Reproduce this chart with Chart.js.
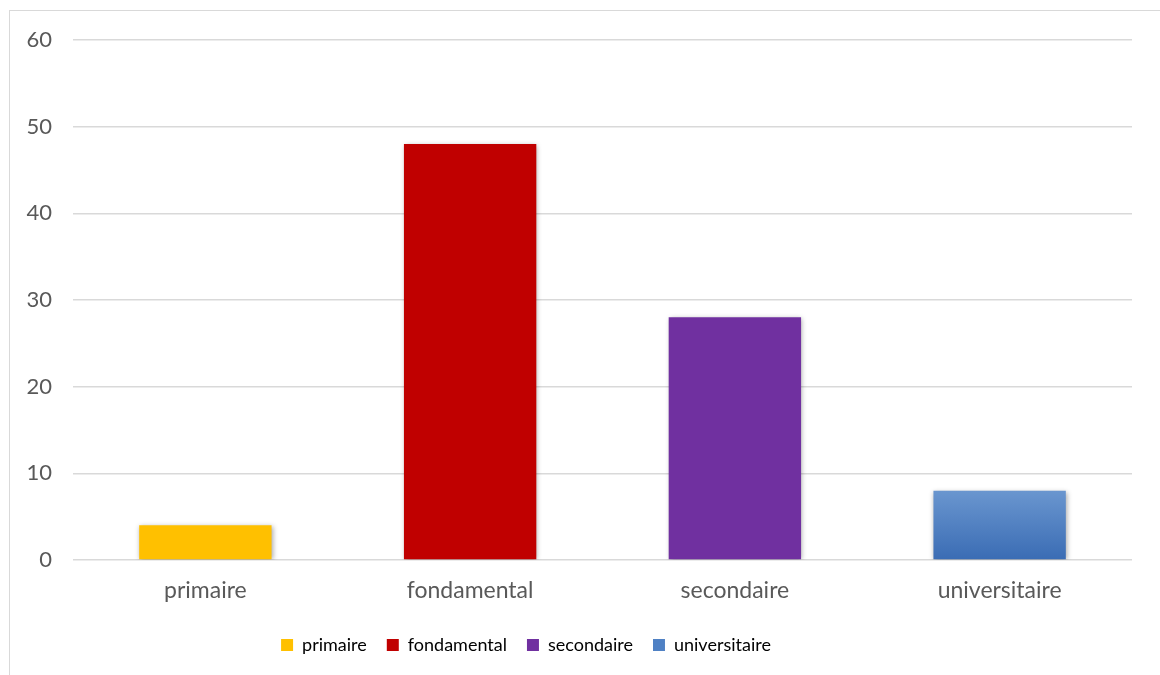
<!DOCTYPE html>
<html>
<head>
<meta charset="utf-8">
<script src="https://cdn.jsdelivr.net/npm/chart.js@4/dist/chart.umd.min.js"></script>
<style>
    html, body { margin: 0; padding: 0; background: #fff; }
    #frame {
        position: absolute; left: 9px; top: 10px;
        width: 1150px; height: 664px;
        border-left: 1px solid #D9D9D9; border-top: 1px solid #D9D9D9;
    }
    #frame canvas { display: block; }
</style>
</head>
<body>
<div id="frame"><canvas id="chart-levels" width="1150" height="664"></canvas></div>
<script>
// Niveaux d'étude - one bar per category
const categories = ['primaire', 'fondamental', 'secondaire', 'universitaire'];
const values = [4, 48, 28, 8];
const yTicks = [0, 10, 20, 30, 40, 50, 60];

const COLORS = {
    primaire: '#FFC000',
    fondamental: '#C00000',
    secondaire: '#7030A0',
    universitaireTop: '#6A96CF',
    universitaireBottom: '#3A6CB4',
    grid: '#D9D9D9',
    text: '#595959'
};
const FONT = 'Lato, "Open Sans", sans-serif';

function barColor(ctx) {
    const i = ctx.dataIndex;
    if (i === 0) return COLORS.primaire;
    if (i === 1) return COLORS.fondamental;
    if (i === 2) return COLORS.secondaire;
    const chart = ctx.chart;
    if (!chart.chartArea || !chart.scales.y) return COLORS.universitaireTop;
    const y = chart.scales.y;
    const g = chart.ctx.createLinearGradient(0, y.getPixelForValue(values[i]), 0, y.getPixelForValue(0));
    g.addColorStop(0, COLORS.universitaireTop);
    g.addColorStop(1, COLORS.universitaireBottom);
    return g;
}

const legendColors = [COLORS.primaire, COLORS.fondamental, COLORS.secondaire, '#4F81C4'];

// soft shadow under the bars
const barShadow = {
    id: 'barShadow',
    beforeDatasetsDraw(chart) {
        const c = chart.ctx;
        c.save();
        c.shadowColor = 'rgba(0,0,0,0.35)';
        c.shadowBlur = 5;
        c.shadowOffsetX = 1;
        c.shadowOffsetY = 1;
    },
    afterDatasetsDraw(chart) {
        chart.ctx.restore();
    }
};

// the legend sits a bit left of centre in the original
const legendNudge = {
    id: 'legendNudge',
    afterLayout(chart) {
        const lg = chart.legend;
        if (!lg) return;
        lg.left -= 45;
        lg.right -= 45;
        lg.top += 6;
        lg.bottom += 6;
    }
};

new Chart(document.getElementById('chart-levels'), {
    type: 'bar',
    data: {
        labels: categories,
        datasets: [{
            data: values,
            backgroundColor: barColor,
            borderWidth: 0,
            categoryPercentage: 1,
            barPercentage: 0.5
        }]
    },
    options: {
        responsive: false,
        animation: false,
        layout: { padding: { top: 29, right: 28, left: 0, bottom: 17 } },
        plugins: {
            tooltip: { enabled: false },
            legend: {
                position: 'bottom',
                labels: {
                    font: { family: FONT, size: 18 },
                    color: COLORS.text,
                    boxWidth: 12,
                    boxHeight: 12,
                    padding: 20,
                    generateLabels: () => categories.map((c, i) => ({
                        text: c,
                        fillStyle: legendColors[i],
                        strokeStyle: legendColors[i],
                        lineWidth: 0,
                        index: i
                    }))
                }
            }
        },
        scales: {
            x: {
                grid: { display: false },
                border: { display: false },
                afterFit: scale => { scale.height = 50; },
                ticks: {
                    font: { family: FONT, size: 23 },
                    color: COLORS.text,
                    padding: 9
                }
            },
            y: {
                min: 0,
                max: 60,
                afterBuildTicks: scale => { scale.ticks = yTicks.map(v => ({ value: v })); },
                afterFit: scale => {
                    scale.width = 63;
                    scale.paddingTop = 0;
                    scale.paddingBottom = 0;
                },
                grid: { color: COLORS.grid, lineWidth: 1.5, drawTicks: false },
                border: { display: false },
                ticks: {
                    font: { family: FONT, size: 22 },
                    color: COLORS.text,
                    padding: 21
                }
            }
        }
    },
    plugins: [barShadow, legendNudge]
});
</script>
</body>
</html>
